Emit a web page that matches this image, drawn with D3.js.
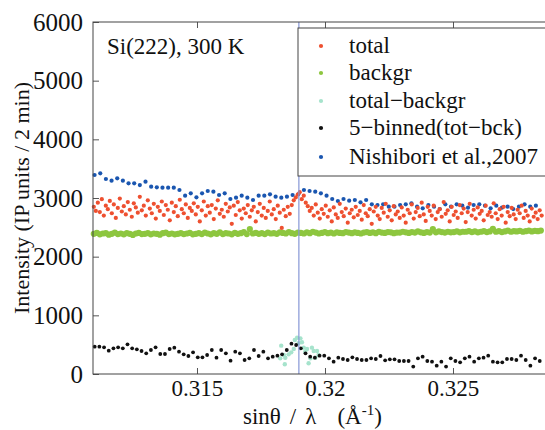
<!DOCTYPE html>
<html><head><meta charset="utf-8">
<script src="https://cdn.jsdelivr.net/npm/d3@7"></script>
<style>
body{margin:0;background:#fff;overflow:hidden}
svg{display:block}
</style>
</head><body>
<svg id="c" width="545" height="430"></svg>
<script>
// ---------- data ----------
const legendLabels = ["total", "backgr", "total\u2212backgr", "5\u2212binned(tot\u2212bck)", "Nishibori et al.,2007"];
const yTicks = [0, 1000, 2000, 3000, 4000, 5000, 6000];
const xTicks = [0.315, 0.32, 0.325];
const xTickLabels = ["0.315", "0.32", "0.325"];
const braggPosition = 0.31898;

// total (raw), sampled from 0.31097 with step 0.0000781
const totalStart = 0.31097, totalStep = 0.0000781;
const totalValues = [
2850,2780,2920,2760,2980,2700,2870,2810,2950,2740,2890,2660,2830,2990,2770,2860,2720,2930,2800,2680,2910,2840,2750,3020,2790,
2870,2700,2960,2820,2740,2900,2650,2850,2780,2940,2710,2880,2800,2620,2920,2760,2860,2690,2970,2810,2740,2890,2660,2830,2780,
2910,2720,2850,2600,2790,2940,2700,2860,2750,2880,2640,2820,2960,2730,2800,2680,2900,2770,2840,2560,2870,2710,2930,2790,2650,
2820,2740,2880,2680,2790,2850,2600,2760,2900,2700,2830,2660,2780,2940,2720,2810,2640,2870,2750,2490,2800,2690,2850,2730,
2880,2960,3010,3060,3100,2980,3040,2920,
2860,2780,2830,2700,2890,2750,2650,2810,2730,2870,2680,2790,2600,2840,2720,2660,2900,2760,2690,2820,2580,2740,2800,2670,2850,
2710,2780,2630,2880,2740,2690,2810,2560,2770,2850,2700,2640,2830,2750,2900,2680,2790,2620,2860,2720,2770,2660,2840,2700,2580,
2800,2740,2890,2650,2760,2830,2690,2920,2720,2610,2850,2780,2700,2870,2640,2760,2810,2680,2930,2730,2790,2600,2850,2710,2770,
2660,2880,2740,2820,2590,2760,2900,2700,2800,2650,2840,2730,2780,2620,2870,2710,2760,2680,2910,2740,2640,2810,2700,2850,2580,
2760,2690,2830,2720,2640,2800,2740,2870,2660,2780,2700,2600,2820,2680,2750,2640,2790,2700
];

// background, sampled from 0.31097 with step 0.0001172
const backStart = 0.31097, backStep = 0.0001172;
const backValues = [
2390,2405,2380,2395,2400,2375,2390,2410,2385,2395,2380,2400,2390,2370,2395,2405,2385,2390,2400,2380,2395,2390,2375,2400,2410,2385,2395,2380,2390,2400,
2385,2395,2405,2380,2390,2400,2385,2410,2395,2380,2400,2390,2415,2385,2400,2395,2380,2405,2390,2400,2420,2385,2470,2395,2405,2390,2400,2385,2410,2395,
2400,2390,2415,2405,2395,2420,2400,2390,2410,2405,2395,2415,2400,2425,2410,2395,2405,2420,2400,2410,2395,2415,2405,2400,2420,2410,2400,2415,2405,2395,
2410,2420,2405,2415,2400,2425,2410,2405,2420,2415,2400,2410,2410,2425,2415,2405,2420,2410,2430,2415,2405,2420,2410,2470,2415,2430,2420,2410,2425,2415,
2420,2430,2415,2425,2425,2435,2420,2430,2415,2425,2435,2420,2430,2475,2425,2435,2420,2430,2445,2425,2435,2430,2440,2425,2435,2445,2430,2440,2435,2445
];

// total - backgr (shown only around the peak)
const diffX = [0.31825,0.31829,0.31839,0.31843,0.31845,0.31858,0.31868,0.31878,0.31882,0.31891,0.31897,0.31904,
               0.31910,0.31917,0.31923,0.31930,0.31936,0.31943,0.31949,0.31956,0.31962,0.31969,0.31975];
const diffValues = [267,483,324,165,278,335,369,426,580,619,523,608,540,449,381,426,182,267,449,392,278,392,324];

// 5-binned (tot - bck), from 0.311004 with step 0.000183
const binStart = 0.311004, binStep = 0.000183;
const binValues = [
466,466,455,398,437,455,437,505,437,420,392,352,409,455,341,341,426,449,381,335,307,370,284,284,324,409,278,409,352,227,381,352,
239,267,409,307,381,267,295,312,335,409,517,494,437,352,295,278,312,312,267,210,278,256,239,284,256,239,239,267,256,307,233,250,250,
222,222,222,126,267,295,222,210,142,210,126,267,222,199,267,295,210,267,278,312,210,199,199,256,256,239,312,239,142,267,222
];

// Nishibori et al., 2007, from 0.31100 with step 0.000221
const nishStart = 0.31100, nishStep = 0.000221;
const nishValues = [
3392,3420,3324,3295,3335,3295,3250,3250,3221,3278,3193,3182,3176,3176,3176,3136,3040,3080,3011,3080,3119,3108,3051,3080,2983,3006,3040,3006,
2966,3040,3040,3062,3022,3006,3022,3051,3062,3136,3119,3108,3080,3040,2983,2949,2983,2955,2966,2926,2966,2892,2881,2892,2852,2852,
2881,2892,2909,2852,2824,2881,2852,2812,2892,2852,2892,2869,2835,2881,2892,2869,2824,2869,2835,2852,2812,2852,2892,2852,2869
];

// ---------- chart ----------
const FONT = "'Liberation Serif'";
const svg = d3.select("#c");
const L = 93, T = 22, R = 547, B = 374;
const x = d3.scaleLinear().domain([0.310938, 0.328672]).range([L, R]);
const y = d3.scaleLinear().domain([0, 6000]).range([B, T]);

const colors = ["#ee5030", "#8dc63f", "#a6e3cc", "#111111", "#1a56b0"];

const toPts = (start, step, vals) => vals.map((v, i) => [start + i * step, v]);
const totalPts = toPts(totalStart, totalStep, totalValues);
const backPts = toPts(backStart, backStep, backValues);
const binPts = toPts(binStart, binStep, binValues);
const nishPts = toPts(nishStart, nishStep, nishValues);
const diffPts = diffX.map((d, i) => [d, diffValues[i]]);

const plot = svg.append("g");
function dots(pts, color, r) {
  plot.append("g").selectAll("circle").data(pts).join("circle")
    .attr("cx", d => x(d[0])).attr("cy", d => y(d[1])).attr("r", r).attr("fill", color);
}
dots(nishPts, colors[4], 2.1);
dots(backPts, colors[1], 3.1);
dots(totalPts, colors[0], 2.1);
dots(diffPts, colors[2], 2.2);
dots(binPts, colors[3], 1.9);

// vertical reference line
svg.append("line").attr("x1", x(braggPosition)).attr("x2", x(braggPosition))
  .attr("y1", T).attr("y2", B).attr("stroke", "#8696d6").attr("stroke-width", 1.2);

// axes
const yAxis = d3.axisLeft(y).tickValues(yTicks).tickFormat(d3.format("d")).tickSizeInner(-6).tickSizeOuter(0).tickPadding(10);
const gy = svg.append("g").attr("transform", `translate(${L},0)`).call(yAxis);
const xAxis = d3.axisBottom(x).tickValues(xTicks).tickFormat((d, i) => xTickLabels[i]).tickSizeInner(-6).tickSizeOuter(0).tickPadding(6);
const gx = svg.append("g").attr("transform", `translate(0,${B})`).call(xAxis);
const xTop = d3.axisTop(x).tickValues(xTicks).tickFormat("").tickSizeInner(-6).tickSizeOuter(0);
const gt = svg.append("g").attr("transform", `translate(0,${T})`).call(xTop);
[gy, gx, gt].forEach(g => {
  g.attr("font-family", null).attr("font-size", null);
  g.select(".domain").remove();
  g.selectAll(".tick line").attr("stroke", "#555");
  g.selectAll("text").style("font-family", FONT).attr("fill", "#111");
});
gy.selectAll("text").style("font-size", "25px");
gx.selectAll("text").style("font-size", "23px");

// frame
svg.append("rect").attr("x", L).attr("y", T).attr("width", R - L).attr("height", B - T)
  .attr("fill", "none").attr("stroke", "#444").attr("stroke-width", 1);

// annotation
svg.append("text").attr("x", 107).attr("y", 54).style("font-family", FONT).style("font-size", "23px").attr("fill", "#111").text("Si(222), 300 K");

// legend
const lg = svg.append("g");
lg.append("rect").attr("x", 298).attr("y", 28).attr("width", 260).attr("height", 148)
  .attr("fill", "#fff").attr("stroke", "#444").attr("stroke-width", 1);
const rowY = [46, 73, 101, 128, 157];
legendLabels.forEach((lab, i) => {
  lg.append("circle").attr("cx", 321).attr("cy", rowY[i]).attr("r", 2.1).attr("fill", colors[i]);
  lg.append("text").attr("x", 349).attr("y", rowY[i] + 7).style("font-family", FONT).style("font-size", "23px").attr("fill", "#111").text(lab);
});

// axis titles
svg.append("text").attr("transform", "translate(29,198) rotate(-90)").attr("text-anchor", "middle")
  .style("font-family", FONT).style("font-size", "22px").attr("fill", "#111").text("Intensity (IP units / 2 min)");
const xt = svg.append("text").attr("x", 243).attr("y", 424)
  .style("font-family", FONT).style("font-size", "23px").attr("fill", "#111");
xt.append("tspan").text("sin\u03b8");
xt.append("tspan").attr("dx", 9).text("/");
xt.append("tspan").attr("dx", 9).text("\u03bb");
xt.append("tspan").attr("dx", 21).text("(\u00c5");
xt.append("tspan").attr("dy", -9).style("font-size", "15px").text("-1");
xt.append("tspan").attr("dy", 9).text(")");
</script>
</body></html>
